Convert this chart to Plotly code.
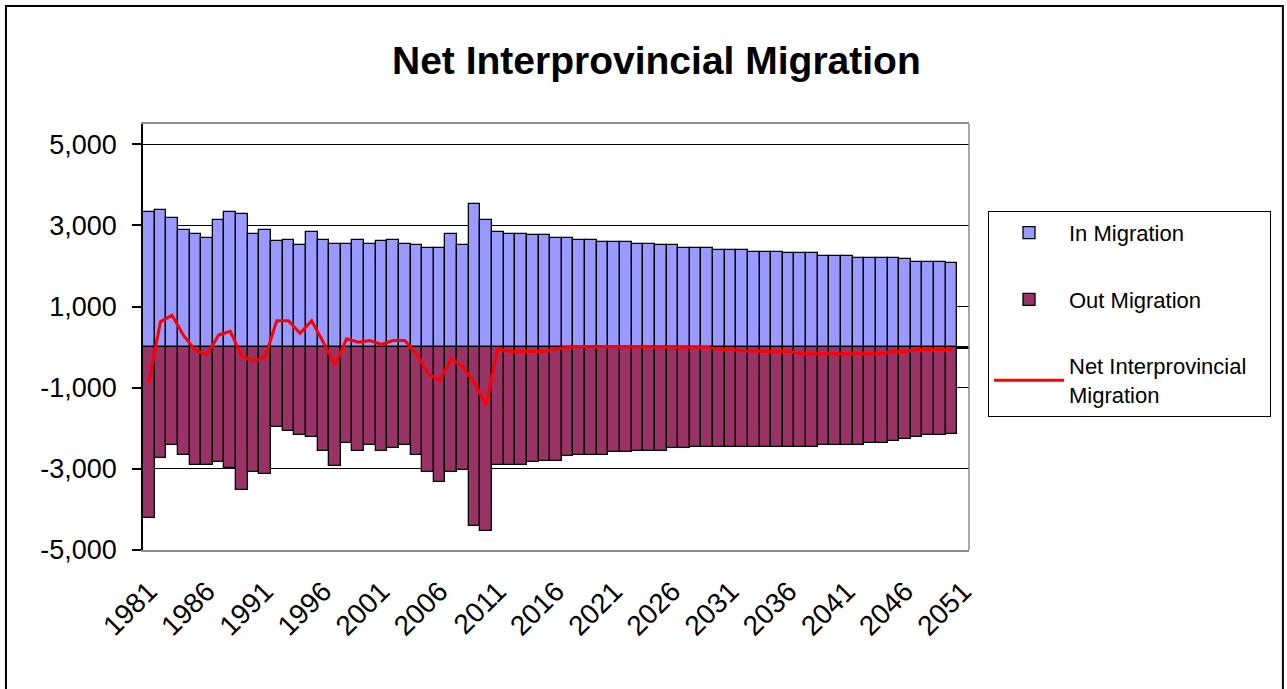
import plotly.graph_objects as go

# Annual interprovincial flows, 1981-2050 (the category axis runs to 2051)
years = list(range(1981, 2051))

in_migration = [
    3324, 3381, 3195, 2895, 2797, 2700, 3138, 3332, 3292, 2797,
    2895, 2611, 2651, 2514, 2846, 2651, 2554, 2554, 2651, 2554,
    2611, 2651, 2554, 2514, 2449, 2449, 2797, 2514, 3527, 3138,
    2838, 2797, 2797, 2757, 2757, 2700, 2700, 2651, 2651, 2595,
    2595, 2595, 2554, 2554, 2514, 2514, 2449, 2449, 2449, 2392,
    2392, 2392, 2351, 2351, 2351, 2311, 2311, 2311, 2254, 2254,
    2254, 2205, 2205, 2205, 2205, 2165, 2108, 2108, 2108, 2068,
]

out_migration = [
    -4216, -2740, -2408, -2651, -2895, -2895, -2838, -2984, -3527, -3081,
    -3138, -1970, -2068, -2165, -2205, -2554, -2935, -2351, -2554, -2408,
    -2554, -2497, -2416, -2651, -3081, -3324, -3081, -3040, -4403, -4541,
    -2895, -2895, -2895, -2838, -2797, -2797, -2692, -2651, -2651, -2651,
    -2595, -2595, -2554, -2554, -2554, -2497, -2497, -2449, -2449, -2449,
    -2449, -2449, -2449, -2449, -2449, -2449, -2449, -2449, -2408, -2408,
    -2408, -2408, -2368, -2368, -2311, -2270, -2214, -2173, -2173, -2132,
]

net_migration = [
    -876, 624, 786, 284, -81, -186, 300, 389, -219, -340,
    -243, 649, 649, 340, 649, 122, -446, 203, 122, 162,
    65, 162, 162, -162, -649, -827, -284, -486, -892, -1419,
    -41, -105, -105, -105, -105, -41, 0, 16, 16, 16,
    16, 16, 16, 16, 16, 16, 16, 16, 0, -49,
    -49, -89, -105, -105, -105, -105, -162, -162, -162, -162,
    -162, -162, -162, -162, -105, -105, -57, -57, -57, -57,
]

x_tick_years = list(range(1981, 2052, 5))
y_tick_values = [-5000, -3000, -1000, 1000, 3000, 5000]
y_tick_labels = ["-5,000", "-3,000", "-1,000", "1,000", "3,000", "5,000"]

BASE_FONT = "Arial, Liberation Sans, sans-serif"

fig = go.Figure()

fig.add_trace(go.Bar(
    x=years, y=in_migration, name="In Migration",
    marker=dict(color="#9999FF", line=dict(color="black", width=1.3)),
    legendgroup="in",
))
fig.add_trace(go.Bar(
    x=years, y=out_migration, name="Out Migration",
    marker=dict(color="#993366", line=dict(color="black", width=1.3)),
    legendgroup="out",
))
fig.add_trace(go.Scatter(
    x=years, y=net_migration,
    name="Net Interprovincial&nbsp;&nbsp;&nbsp;<br>Migration",
    mode="lines", line=dict(color="#FF0000", width=3),
    legendgroup="net",
))

fig.update_layout(
    width=1287, height=689,
    paper_bgcolor="white", plot_bgcolor="white",
    margin=dict(l=143, r=318, t=124, b=139, autoexpand=False),
    barmode="relative", bargap=0,
    font=dict(family=BASE_FONT, color="black"),
    title=dict(
        text="<b>Net Interprovincial Migration</b>",
        font=dict(family=BASE_FONT, size=39, color="black"),
        x=0.51, xanchor="center", xref="container",
        y=0.913, yanchor="middle", yref="container",
    ),
    legend=dict(
        x=1.023, y=0.796, xanchor="left", yanchor="top",
        bgcolor="white", bordercolor="black", borderwidth=1,
        font=dict(family=BASE_FONT, size=22, color="black"),
        tracegroupgap=35, traceorder="grouped",
        itemwidth=70,
    ),
    showlegend=True,
)

fig.update_xaxes(
    range=[1980.5, 2051.5],
    tickmode="array", tickvals=x_tick_years,
    tickangle=-45, tickfont=dict(size=28, family=BASE_FONT),
    ticks="", ticklabelstandoff=12,
    showgrid=False, zeroline=False,
    showline=True, linecolor="#8C8C8C", linewidth=1.5, mirror=True,
)

fig.update_yaxes(
    range=[-5000, 5500],
    tickmode="array", tickvals=y_tick_values, ticktext=y_tick_labels,
    tickfont=dict(size=27, family=BASE_FONT),
    ticks="outside", ticklen=9, tickcolor="black", tickwidth=1.5,
    ticklabelstandoff=10,
    showgrid=True, gridcolor="black", gridwidth=1.2,
    zeroline=True, zerolinecolor="black", zerolinewidth=2.5,
    showline=True, linecolor="black", linewidth=1.5,
)

# plot-area right edge and outer chart frame
fig.add_shape(type="line", xref="paper", yref="paper",
              x0=1, x1=1, y0=0, y1=1,
              line=dict(color="#8C8C8C", width=1.5))
fig.add_shape(type="rect", xref="paper", yref="paper",
              x0=-0.1659, x1=1.380, y0=-0.36, y1=1.277,
              line=dict(color="black", width=2), layer="below")

fig.write_html("out.html")
